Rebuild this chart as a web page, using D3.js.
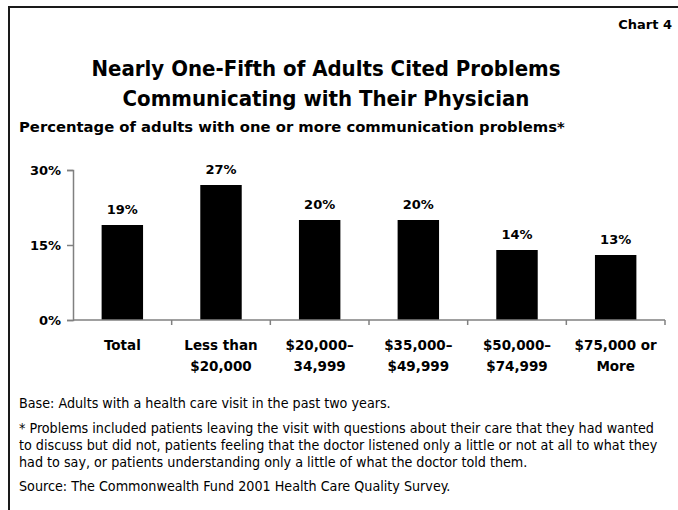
<!DOCTYPE html>
<html>
<head>
<meta charset="utf-8">
<script src="https://cdn.jsdelivr.net/npm/d3@7"></script>
<style>
    html, body { margin: 0; padding: 0; background: #fff; }
    svg { display: block; }
    .heavy { font-family: 'DejaVu Sans', sans-serif; font-weight: bold; fill: #000; }
    .title { font-family: 'DejaVu Sans Condensed', 'DejaVu Sans', sans-serif; font-weight: bold; fill: #000; }
    .note { font-family: 'DejaVu Sans Condensed', 'DejaVu Sans', sans-serif; fill: #000; }
</style>
</head>
<body>
<svg id="chart"></svg>
<script>
// Chart data
const categories = ['Total', 'Less than|$20,000', '$20,000–|34,999', '$35,000–|$49,999', '$50,000–|$74,999', '$75,000 or|More'];
const values = [19, 27, 20, 20, 14, 13];
const yTicks = [0, 15, 30];

const titleLines = ['Nearly One-Fifth of Adults Cited Problems', 'Communicating with Their Physician'];
const subtitle = 'Percentage of adults with one or more communication problems*';
const footLines = [
    'Base: Adults with a health care visit in the past two years.',
    '* Problems included patients leaving the visit with questions about their care that they had wanted',
    'to discuss but did not, patients feeling that the doctor listened only a little or not at all to what they',
    'had to say, or patients understanding only a little of what the doctor told them.',
    'Source: The Commonwealth Fund 2001 Health Care Quality Survey.'
];

const width = 678;
const height = 510;

const svg = d3.select('#chart')
    .attr('width', width)
    .attr('height', height);

// Frame (top and left edges only)
svg.append('path')
    .attr('d', `M9,510 V7 H678`)
    .attr('fill', 'none')
    .attr('stroke', '#1a1a1a')
    .attr('stroke-width', 2);

svg.append('text')
    .attr('class', 'heavy')
    .attr('x', 672)
    .attr('y', 29)
    .attr('text-anchor', 'end')
    .style('font-size', '13px')
    .text('Chart 4');

// Title
svg.append('text')
    .attr('class', 'title')
    .attr('text-anchor', 'middle')
    .style('font-size', '22px')
    .selectAll('tspan')
    .data(titleLines)
    .enter()
    .append('tspan')
    .attr('x', 326)
    .attr('y', (d, i) => 76 + i * 30)
    .text(d => d);

svg.append('text')
    .attr('class', 'heavy')
    .attr('x', 19)
    .attr('y', 132)
    .style('font-size', '14.8px')
    .text(subtitle);

// Scales
const x = d3.scaleBand()
    .domain(categories)
    .range([73, 665])
    .paddingInner(0.58)
    .paddingOuter(0.29);

const y = d3.scaleLinear()
    .domain([0, 30])
    .range([320, 170]);

// Y axis
const yAxis = svg.append('g')
    .attr('transform', 'translate(73,0)')
    .call(d3.axisLeft(y).tickValues(yTicks).tickSize(6).tickPadding(6).tickFormat(d => d + '%'));
yAxis.select('.domain').attr('stroke', '#808080').attr('stroke-width', 1.5);
yAxis.selectAll('.tick line').attr('stroke', '#808080').attr('stroke-width', 1.5);
yAxis.selectAll('.tick text')
    .attr('class', 'heavy')
    .attr('dy', '0.35em')
    .style('font-size', '13px');

// Bars
svg.append('g')
    .selectAll('rect')
    .data(values)
    .enter()
    .append('rect')
    .attr('x', (d, i) => x(categories[i]))
    .attr('y', d => y(d))
    .attr('width', x.bandwidth())
    .attr('height', d => y(0) - y(d))
    .attr('fill', '#000');

// Value labels
svg.append('g')
    .selectAll('text')
    .data(values)
    .enter()
    .append('text')
    .attr('class', 'heavy')
    .attr('x', (d, i) => x(categories[i]) + x.bandwidth() / 2)
    .attr('y', d => y(d) - 11)
    .attr('text-anchor', 'middle')
    .style('font-size', '13px')
    .text(d => d + '%');

// X axis line with category separators
const step = x.step();
const sepX = d3.range(categories.length + 1).map(i => 73 + i * step);
svg.append('line')
    .attr('x1', 73).attr('x2', 665)
    .attr('y1', y(0)).attr('y2', y(0))
    .attr('stroke', '#808080')
    .attr('stroke-width', 1.5);
svg.append('g')
    .selectAll('line')
    .data(sepX.slice(1))
    .enter()
    .append('line')
    .attr('x1', d => d).attr('x2', d => d)
    .attr('y1', y(0)).attr('y2', y(0) + 5)
    .attr('stroke', '#808080')
    .attr('stroke-width', 1.5);

// Category labels
const catText = svg.append('g')
    .selectAll('text')
    .data(categories)
    .enter()
    .append('text')
    .attr('class', 'heavy')
    .attr('text-anchor', 'middle')
    .style('font-size', '13.5px');
catText.selectAll('tspan')
    .data(d => d.split('|').map(t => ({ t, c: d })))
    .enter()
    .append('tspan')
    .attr('x', d => x(d.c) + x.bandwidth() / 2)
    .attr('y', (d, i) => 350 + i * 21)
    .text(d => d.t);

// Footnotes
const footY = [408, 433, 450, 467, 491];
svg.append('g')
    .selectAll('text')
    .data(footLines)
    .enter()
    .append('text')
    .attr('class', 'note')
    .attr('x', 19)
    .attr('y', (d, i) => footY[i])
    .style('font-size', '14.2px')
    .text(d => d);
</script>
</body>
</html>
